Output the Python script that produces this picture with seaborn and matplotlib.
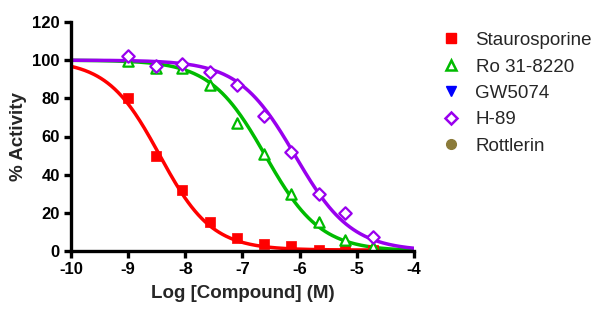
import numpy as np
import pandas as pd
import matplotlib
matplotlib.use("Agg")
import matplotlib.pyplot as plt
from matplotlib.lines import Line2D
import seaborn as sns

# ---- data ----
log_conc = [-9.0, -8.52, -8.05, -7.57, -7.10, -6.62, -6.15, -5.67, -5.20, -4.72]
staurosporine = [80, 50, 32, 15, 7, 3.5, 2.5, 0.3, 1.0, 0.5]
ro_31_8220 = [99.5, 96, 96, 87, 67, 51, 30, 15, 6, 2]
h_89 = [102, 97, 98, 94, 87, 71, 52, 30, 20, 7.5]

compounds = ["Staurosporine", "Ro 31-8220", "GW5074", "H-89", "Rottlerin"]
# fitted 4PL parameters (top, bottom, logIC50, hill) estimated from the curves
fit_top = {"Staurosporine": 100, "Ro 31-8220": 100, "H-89": 100}
fit_bottom = {"Staurosporine": 0.5, "Ro 31-8220": 0, "H-89": 0}
fit_logic50 = {"Staurosporine": -8.45, "Ro 31-8220": -6.6, "H-89": -6.08}
fit_hill = {"Staurosporine": 0.95, "Ro 31-8220": 0.9, "H-89": 0.88}

x_ticks = [-10, -9, -8, -7, -6, -5, -4]
y_ticks = [0, 20, 40, 60, 80, 100, 120]

colors = {"Staurosporine": "#FF0000", "Ro 31-8220": "#00BB00", "GW5074": "#0000FF",
          "H-89": "#9900EE", "Rottlerin": "#8B7B3A"}
markers = {"Staurosporine": "s", "Ro 31-8220": "^", "GW5074": "v", "H-89": "D", "Rottlerin": "o"}
filled = {"Staurosporine": True, "Ro 31-8220": False, "GW5074": True, "H-89": False, "Rottlerin": True}

points = pd.DataFrame({
    "x": log_conc * 3,
    "y": staurosporine + ro_31_8220 + h_89,
    "compound": ["Staurosporine"] * 10 + ["Ro 31-8220"] * 10 + ["H-89"] * 10,
})

xs = np.linspace(-10, -4, 300)
curve_rows = []
for c in ["Staurosporine", "Ro 31-8220", "H-89"]:
    ys = fit_bottom[c] + (fit_top[c] - fit_bottom[c]) / (1 + 10 ** ((xs - fit_logic50[c]) * fit_hill[c]))
    curve_rows.append(pd.DataFrame({"x": xs, "y": ys, "compound": c}))
curves = pd.concat(curve_rows, ignore_index=True)

sns.set_style("ticks")
plt.rcParams["font.family"] = ["Liberation Sans", "DejaVu Sans"]

fig = plt.figure(figsize=(6.0, 3.22), dpi=100)
ax = fig.add_axes([71 / 600, (322 - 251) / 322, (414 - 71) / 600, (251 - 22) / 322])

sns.lineplot(data=curves, x="x", y="y", hue="compound", palette=colors, ax=ax,
             legend=False, linewidth=2.5, zorder=2)
for c in ["Staurosporine", "Ro 31-8220", "H-89"]:
    sub = points[points["compound"] == c]
    if filled[c]:
        sns.scatterplot(data=sub, x="x", y="y", marker=markers[c], color=colors[c],
                        s=55, edgecolor=colors[c], linewidth=0.5, ax=ax, zorder=3, legend=False)
    else:
        ax.scatter(sub["x"], sub["y"], marker=markers[c], facecolors="white",
                   edgecolors=colors[c], s=55 if c != "H-89" else 40, linewidths=1.6, zorder=3)

ax.set_xlim(-10, -4)
ax.set_ylim(0, 120)
ax.set_xticks(x_ticks)
ax.set_yticks(y_ticks)
ax.set_xticklabels([str(t) for t in x_ticks])
ax.set_yticklabels([str(t) for t in y_ticks])
for lab in ax.get_xticklabels() + ax.get_yticklabels():
    lab.set_fontweight("bold")
    lab.set_fontsize(12)
ax.set_xlabel("Log [Compound] (M)", fontsize=13.5, fontweight="bold", labelpad=6)
ax.set_ylabel("% Activity", fontsize=13.5, fontweight="bold", labelpad=4)
sns.despine(ax=ax)
for s in ["left", "bottom"]:
    ax.spines[s].set_linewidth(2.4)
    ax.spines[s].set_color("black")
ax.tick_params(axis="both", width=2.4, length=5, direction="out", colors="black", pad=3)
ax.spines["left"].set_zorder(4)
ax.spines["bottom"].set_zorder(4)

handles = []
for c in compounds:
    if filled[c]:
        h = Line2D([], [], linestyle="none", marker=markers[c], color=colors[c],
                   markerfacecolor=colors[c], markeredgecolor=colors[c], markersize=7)
    else:
        h = Line2D([], [], linestyle="none", marker=markers[c], color=colors[c],
                   markerfacecolor="white", markeredgecolor=colors[c], markersize=6.5,
                   markeredgewidth=1.8)
    handles.append(h)
fig.legend(handles, compounds, loc="upper left", bbox_to_anchor=(423 / 600, 1 - 15 / 322),
           frameon=False, fontsize=13.5, handletextpad=0.7, labelspacing=0.5,
           handlelength=1.2)

fig.savefig("out.png", dpi=100)
